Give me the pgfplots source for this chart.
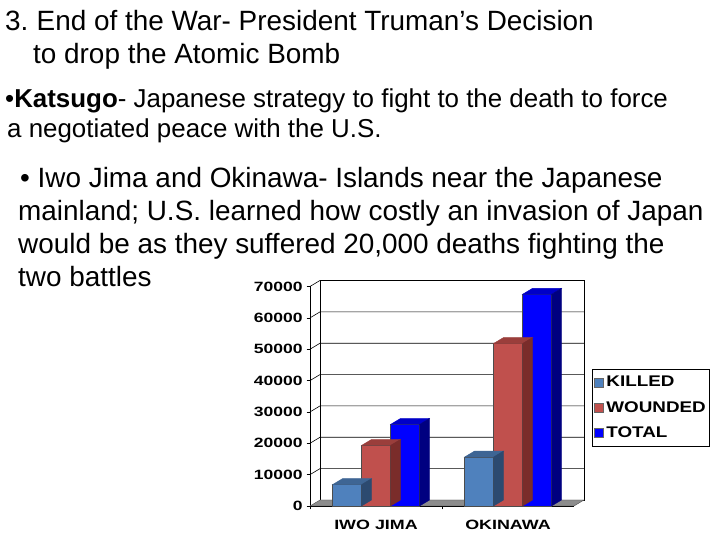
\documentclass[border=0pt]{standalone}
\usepackage{fontspec}
\usepackage{graphicx}
\setmainfont{Liberation Sans}
\newfontfamily\chartfont[FakeStretch=1.33]{Liberation Sans}
\newfontfamily\legfont[FakeStretch=1.22]{Liberation Sans}
\usepackage{pgfplots}
\pgfplotsset{compat=1.18}
\definecolor{kfront}{HTML}{4F81BD}
\definecolor{ktop}{HTML}{3E6594}
\definecolor{kside}{HTML}{2C4A70}
\definecolor{wfront}{HTML}{C0504D}
\definecolor{wtop}{HTML}{9A3E3B}
\definecolor{wside}{HTML}{7A2C2A}
\definecolor{tfront}{HTML}{0000FF}
\definecolor{ttop}{HTML}{0000C8}
\definecolor{tside}{HTML}{000080}
\definecolor{floorc}{HTML}{8C8C8C}
\pgfdeclareplotmark{none3d}{}
\pgfplotsset{
  face3d/.style n args={3}{
    forget plot, only marks, mark=none3d, scatter,
    visualization depends on={rawy \as \rawy},
    scatter/@pre marker code/.code={%
      \pgfkeys{/pgf/fpu=true,/pgf/fpu/output format=fixed}%
      \pgfmathparse{\rawy*219.5/70000}\let\H\pgfmathresult
      \pgfkeys{/pgf/fpu=false}%
      \edef\NH{\fpeval{-\H}}\edef\B{\fpeval{6-\H}}%
      \edef\L{\fpeval{#1-14.5}}\edef\R{\fpeval{#1+14.5}}%
      \edef\LL{\fpeval{\L+10}}\edef\RR{\fpeval{\R+10}}%
      \fill[#2] (\L bp,0bp) -- (\R bp,0bp) -- (\RR bp,6bp) -- (\LL bp,6bp) -- cycle;
      \fill[#3] (\R bp,0bp) -- (\RR bp,6bp) -- (\RR bp,\B bp) -- (\R bp,\NH bp) -- cycle;
    },
    scatter/@post marker code/.code={},
  },
  front/.style={ybar, bar width=29bp, bar shift=#1, draw=black!70, line width=0.4bp},
}
\pgfplotstableread{
x killed wounded total
0 6800 19300 26000
1 15600 51800 67500
}\casualties
\begin{document}
\begin{tikzpicture}[x=1bp,y=1bp]
\fill[white] (0,0) rectangle (720,540);
\path[use as bounding box] (0,0) rectangle (720,540);
\begin{scope}[every node/.style={anchor=base west, inner sep=0pt}]
\node at (5,509) {\fontsize{28}{33}\selectfont 3.};
\node at (36.5,509) {\fontsize{28}{33}\selectfont End of the War- President Truman’s Decision};
\node at (33,476.5) {\fontsize{28}{33}\selectfont to drop the Atomic Bomb};
\node at (5,432) {\fontsize{26}{30}\selectfont •\textbf{Katsugo}- Japanese strategy to fight to the death to force};
\node at (7,402) {\fontsize{26}{30}\selectfont a negotiated peace with the U.S.};
\node at (20,352) {\fontsize{28}{33}\selectfont • Iwo Jima and Okinawa- Islands near the Japanese};
\node at (18,319) {\fontsize{28}{33}\selectfont mainland; U.S. learned how costly an invasion of Japan};
\node at (18,286) {\fontsize{28}{33}\selectfont would be as they suffered 20,000 deaths fighting the};
\node at (18,253) {\fontsize{28}{33}\selectfont two battles};
\end{scope}
\begin{axis}[
  at={(310bp,34bp)}, anchor=south west,
  scale only axis, width=264bp, height=219.5bp,
  xmin=-0.5, xmax=1.5, ymin=0, ymax=70000,
  clip=false,
  axis x line*=bottom, axis y line*=left,
  axis line style={black, line width=0.6bp},
  tick align=outside, major tick length=3.5bp,
  tick style={black, line width=0.6bp},
  ytick={0,10000,...,70000},
  scaled y ticks=false,
  yticklabel={\scalebox{1.3}[1]{\pgfmathprintnumber[assume math mode=true,1000 sep={}]{\tick}}},
  yticklabel style={font=\bfseries\fontsize{13.5}{14}\selectfont, xshift=-0.5bp},
  xtick={-0.5,0.5}, xticklabels={},
  extra x ticks={0,1}, extra x tick labels={IWO JIMA,OKINAWA},
  extra x tick style={major tick length=0pt, xticklabel style={font=\chartfont\bfseries\fontsize{13.5}{14}\selectfont, yshift=-11bp}},
  legend style={at={(1.0682,0.6241)}, anchor=north west, draw=black, line width=0.6bp,
     font=\legfont\bfseries\fontsize{15.5}{15.5}\selectfont, row sep=9bp, column sep=1bp,
     inner xsep=1.5bp, inner ysep=5bp},
  legend cell align=left,
  legend image code/.code={\draw[#1, draw=black!60, line width=0.4bp] (0bp,-4.6bp) rectangle (9.2bp,4.6bp);},
]
% back wall and grid
\draw[black, line width=0.6bp] ([shift={(10bp,6bp)}]axis cs:-0.5,0) rectangle ([shift={(10bp,6bp)}]axis cs:1.5,70000);
\pgfplotsinvokeforeach{10000,20000,30000,40000,50000,60000,70000}{
  \draw[black, line width=0.6bp] (axis cs:-0.5,#1) -- ([shift={(10bp,6bp)}]axis cs:-0.5,#1) -- ([shift={(10bp,6bp)}]axis cs:1.5,#1);
}
% floor
\fill[floorc, draw=black!70, line width=0.4bp] (axis cs:-0.5,0) -- (axis cs:1.5,0) -- ([shift={(10bp,6bp)}]axis cs:1.5,0) -- ([shift={(10bp,6bp)}]axis cs:-0.5,0) -- cycle;
% killed
\addplot[front=-29bp, fill=kfront] table[x=x,y=killed] {\casualties};
\addlegendentry{KILLED}
\addplot[face3d={-29}{ktop}{kside}] table[x=x,y=killed] {\casualties};
% wounded
\addplot[front=0bp, fill=wfront] table[x=x,y=wounded] {\casualties};
\addlegendentry{WOUNDED}
\addplot[face3d={0}{wtop}{wside}] table[x=x,y=wounded] {\casualties};
% total
\addplot[front=29bp, fill=tfront] table[x=x,y=total] {\casualties};
\addlegendentry{TOTAL}
\addplot[face3d={29}{ttop}{tside}] table[x=x,y=total] {\casualties};
\end{axis}
\end{tikzpicture}
\end{document}
